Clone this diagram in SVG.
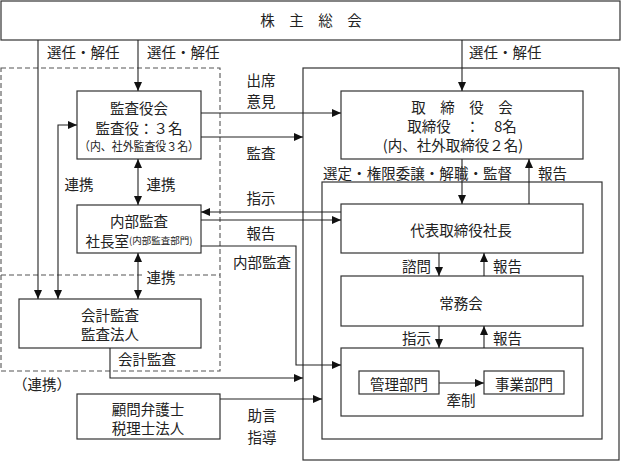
<svg xmlns="http://www.w3.org/2000/svg" width="621" height="462" viewBox="0 0 621 462">
<style>
.b{fill:#fff;stroke:#333;stroke-width:1.2}
.f{fill:none;stroke:#333;stroke-width:1.2}
.d{fill:none;stroke:#555;stroke-width:1.1;stroke-dasharray:5,3}
.c{fill:none;stroke:#222;stroke-width:1.1}
text{font-family:"Noto Sans CJK JP","Noto Sans CJK SC",sans-serif;font-size:14.5px;fill:#222;dominant-baseline:central}
.m{text-anchor:middle}
.e{text-anchor:end}
.s{font-size:12px}
.xs{font-size:9.5px}
</style>
<defs>
<marker id="a" markerUnits="userSpaceOnUse" markerWidth="9" markerHeight="8" refX="9" refY="4" orient="auto-start-reverse">
<path d="M0,0 L9,4 L0,8 z" fill="#111"/>
</marker>
</defs>
<rect x="0" y="0" width="621" height="462" fill="#fff"/>

<g id="containers">
<rect class="d" x="1" y="68" width="219" height="303"/>
<path class="d" d="M1,275 H142 M179,275 H220"/>
<rect class="f" x="303" y="68" width="316" height="392"/>
<rect class="f" x="322" y="182" width="280" height="257"/>
</g>

<g id="kabunushi">
<rect class="b" x="1" y="1" width="619" height="39"/>
<text class="m" x="311" y="19">株　主　総　会</text>
</g>

<g id="kansayakukai">
<rect class="b" x="77" y="91" width="124" height="68"/>
<text class="m" x="139" y="107">監査役会</text>
<text class="m" x="139" y="127">監査役：３名</text>
<text class="m s" x="139" y="145" textLength="120" lengthAdjust="spacingAndGlyphs">（内、社外監査役３名）</text>
</g>

<g id="naibukansa">
<rect class="b" x="77" y="205" width="124" height="48"/>
<text class="m" x="139" y="220">内部監査</text>
<text class="m" x="139" y="240">社長室<tspan class="xs">(内部監査部門)</tspan></text>
</g>

<g id="kaikeikansa">
<rect class="b" x="19" y="299" width="182" height="49"/>
<text class="m" x="110" y="314">会計監査</text>
<text class="m" x="110" y="333">監査法人</text>
</g>

<g id="komon">
<rect class="b" x="77" y="394" width="143" height="45"/>
<text class="m" x="148" y="408">顧問弁護士</text>
<text class="m" x="148" y="427">税理士法人</text>
</g>

<g id="torishimariyakukai">
<rect class="b" x="341" y="91" width="242" height="68"/>
<text class="m" x="462" y="106">取　締　役　会</text>
<text class="m" x="462" y="125">取締役　：　8名</text>
<text class="m" x="453" y="144">(内、社外取締役２名)</text>
</g>

<g id="daihyo">
<rect class="b" x="341" y="204" width="242" height="49"/>
<text class="m" x="461" y="229">代表取締役社長</text>
</g>

<g id="jomukai">
<rect class="b" x="341" y="276" width="242" height="50"/>
<text class="m" x="461" y="302">常務会</text>
</g>

<g id="bumon">
<rect class="b" x="341" y="348" width="242" height="68"/>
</g>

<g id="kanri">
<rect class="b" x="359" y="371" width="80" height="23"/>
<text class="m" x="399" y="383">管理部門</text>
</g>

<g id="jigyo">
<rect class="b" x="484" y="371" width="80" height="23"/>
<text class="m" x="524" y="383">事業部門</text>
</g>

<g id="connectors">
<path class="c" d="M38,40 V299" marker-end="url(#a)"/>
<path class="c" d="M138,40 V91" marker-end="url(#a)"/>
<path class="c" d="M462,40 V91" marker-end="url(#a)"/>
<path class="c" d="M77,125 H58 V299" marker-start="url(#a)" marker-end="url(#a)"/>
<path class="c" d="M138,159 V205" marker-start="url(#a)" marker-end="url(#a)"/>
<path class="c" d="M138,253 V299" marker-start="url(#a)" marker-end="url(#a)"/>
<path class="c" d="M201,113 H341" marker-end="url(#a)"/>
<path class="c" d="M201,137 H303" marker-end="url(#a)"/>
<path class="c" d="M341,212 H201" marker-end="url(#a)"/>
<path class="c" d="M201,220 H341" marker-end="url(#a)"/>
<path class="c" d="M201,246 H296 V365 H341" marker-end="url(#a)"/>
<path class="c" d="M110,348 V378 H303" marker-end="url(#a)"/>
<path class="c" d="M220,399 H322" marker-end="url(#a)"/>
<path class="c" d="M462,159 V204" marker-end="url(#a)"/>
<path class="c" d="M529,204 V159" marker-end="url(#a)"/>
<path class="c" d="M439,253 V276" marker-end="url(#a)"/>
<path class="c" d="M484,276 V253" marker-end="url(#a)"/>
<path class="c" d="M439,326 V348" marker-end="url(#a)"/>
<path class="c" d="M484,348 V326" marker-end="url(#a)"/>
<path class="c" d="M439,383 H484" marker-end="url(#a)"/>
</g>

<g id="labels">
<text x="47" y="51">選任・解任</text>
<text x="147" y="51">選任・解任</text>
<text x="469" y="51">選任・解任</text>
<text class="m" x="261" y="79">出席</text>
<text class="m" x="261" y="100">意見</text>
<text class="m" x="261" y="152">監査</text>
<text class="m" x="261" y="197">指示</text>
<text class="m" x="261" y="232">報告</text>
<text class="m" x="262" y="261">内部監査</text>
<text class="m" x="79" y="183">連携</text>
<text class="m" x="161" y="183">連携</text>
<text class="m" x="161" y="276">連携</text>
<text class="m" x="147" y="358">会計監査</text>
<text class="m" x="42" y="383">（連携）</text>
<text class="m" x="262" y="414">助言</text>
<text class="m" x="262" y="436">指導</text>
<text x="323" y="172" textLength="189" lengthAdjust="spacing">選定・権限委譲・解職・監督</text>
<text x="538" y="172">報告</text>
<text class="e" x="431" y="265">諮問</text>
<text x="493" y="265">報告</text>
<text class="e" x="431" y="337">指示</text>
<text x="493" y="337">報告</text>
<text class="m" x="461" y="399">牽制</text>
</g>
</svg>
